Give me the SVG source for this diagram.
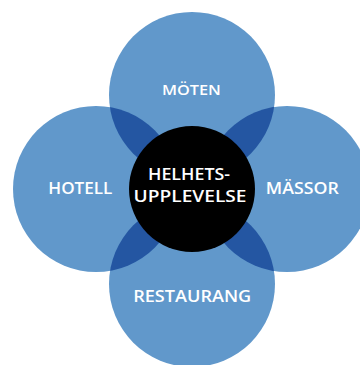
<svg xmlns="http://www.w3.org/2000/svg" width="360" height="365" viewBox="0 0 360 365">
<style>
.petal{fill:#6198cb}
.lens{fill:#2456a2}
.hub{fill:#000}
.lbl{font-family:"Open Sans","Liberation Sans",sans-serif;font-weight:600;fill:#fff;text-anchor:middle}
</style>
<defs>
<clipPath id="cTop"><circle cx="192" cy="95" r="83"/></clipPath>
<clipPath id="cBot"><circle cx="192" cy="284" r="83"/></clipPath>
</defs>
<rect width="360" height="365" fill="#fff"/>
<g id="moten"><circle class="petal" cx="192" cy="95" r="83"/></g>
<g id="hotell"><circle class="petal" cx="96" cy="189" r="83"/></g>
<g id="massor"><circle class="petal" cx="287" cy="189" r="83"/></g>
<g id="restaurang"><circle class="petal" cx="192" cy="284" r="83"/></g>
<g id="overlaps">
<circle class="lens" cx="96" cy="189" r="83" clip-path="url(#cTop)"/>
<circle class="lens" cx="287" cy="189" r="83" clip-path="url(#cTop)"/>
<circle class="lens" cx="96" cy="189" r="83" clip-path="url(#cBot)"/>
<circle class="lens" cx="287" cy="189" r="83" clip-path="url(#cBot)"/>
</g>
<g id="helhetsupplevelse">
<circle class="hub" cx="192" cy="189" r="63"/>
<text class="lbl" x="189" y="180.3" font-size="17" textLength="82" lengthAdjust="spacingAndGlyphs">HELHETS-</text>
<text class="lbl" x="190" y="201.7" font-size="17" textLength="113" lengthAdjust="spacingAndGlyphs">UPPLEVELSE</text>
</g>
<g id="labels">
<text class="lbl" x="191.4" y="94.5" font-size="15" textLength="59" lengthAdjust="spacingAndGlyphs">MÖTEN</text>
<text class="lbl" x="80.3" y="194.3" font-size="16" textLength="64" lengthAdjust="spacingAndGlyphs">HOTELL</text>
<text class="lbl" x="302.3" y="194.3" font-size="16" textLength="73" lengthAdjust="spacingAndGlyphs">MÄSSOR</text>
<text class="lbl" x="192.2" y="301.7" font-size="16" textLength="118" lengthAdjust="spacingAndGlyphs">RESTAURANG</text>
</g>
</svg>
